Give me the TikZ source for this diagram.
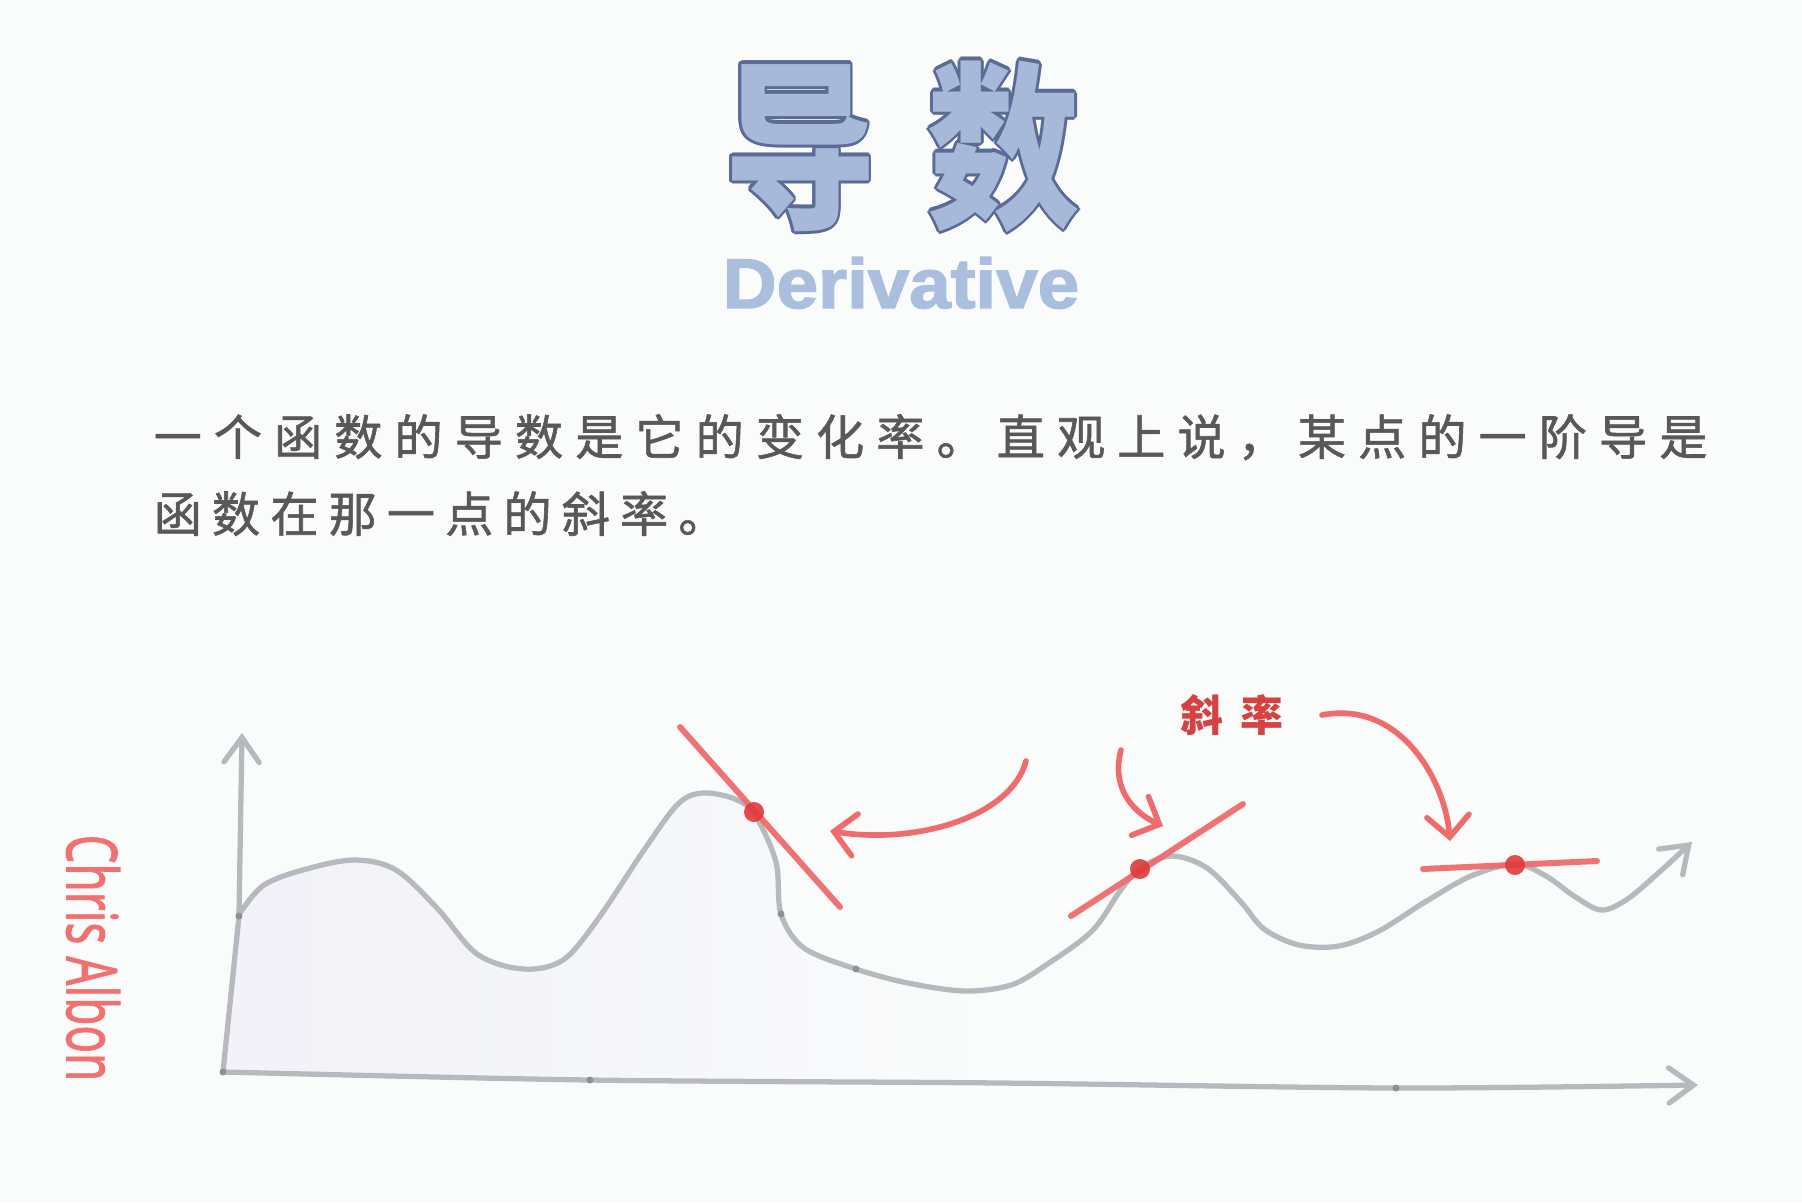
\documentclass[tikz,border=0pt]{standalone}
\usepackage{fontspec}
\usepackage{xcolor}
\usetikzlibrary{arrows.meta,fadings}
\setmainfont{Noto Sans}
\newfontfamily\cjk{Noto Sans CJK SC}
\newfontfamily\headfont{Liberation Sans}

\definecolor{paper}{RGB}{250,251,251}
\definecolor{titlefill}{RGB}{166,185,216}
\definecolor{titleline}{RGB}{92,107,150}
\definecolor{subtitle}{RGB}{170,191,222}
\definecolor{bodytext}{RGB}{88,88,88}
\definecolor{axisgray}{RGB}{182,186,190}
\definecolor{jointgray}{RGB}{140,145,150}
\definecolor{slopered}{RGB}{240,108,108}
\definecolor{dotred}{RGB}{224,58,58}
\definecolor{labelred}{RGB}{214,66,66}
\definecolor{signred}{RGB}{242,112,112}
\definecolor{undershade}{RGB}{242,242,248}

\begin{document}
\begin{tikzpicture}[x=0.01cm, y=-0.01cm,
    titletext/.style={font=\cjk\bfseries\fontsize{51}{51}\selectfont, anchor=base, inner sep=0pt, xscale=0.85},
    bodyline/.style={font=\cjk\fontsize{13.7}{16}\selectfont\addfontfeature{LetterSpace=#1, FakeBold=1.2}, text=bodytext, anchor=base west, inner sep=0pt},
    axis/.style={draw=axisgray, line width=1.5pt, line cap=round, line join=round},
    joint/.style={fill=jointgray},
    tangent/.style={draw=slopered, line width=1.7pt, line cap=round, draw opacity=0.95},
    pointer/.style={draw=slopered, line width=1.6pt, line cap=round, -{Straight Barb[length=6pt, width=12pt, line cap=round]}},
    touch/.style={fill=dotred, fill opacity=0.9},
    >={Straight Barb[length=7pt, width=10pt, line cap=round]}]

  % Background and margins
  \fill[paper] (0,0) rectangle (1802,1202);
  \useasboundingbox (0,0) rectangle (1802,1202);

  % Title
  \foreach \a in {0,30,...,330}
    \node[titletext, text=titleline, shift={(\a:3.2)}] (edge\a) at (902,214) {导\hspace{17pt}数};
  \node[titletext, text=titlefill] (title) at (902,214) {导\hspace{17pt}数};
  \node[font=\headfont\bfseries\fontsize{20}{20}\selectfont\addfontfeature{FakeBold=2}, text=subtitle, anchor=base, inner sep=0pt, xscale=1.06] (subtitle) at (901,308) {Derivative};

  % Text
  \node[bodyline=25] (line1) at (153,455) {一个函数的导数是它的变化率。直观上说，某点的一阶导是};
  \node[bodyline=21] (line2) at (153,532) {函数在那一点的斜率。};

  % Signature
  \node[rotate=-90, xscale=0.65, font=\fontsize{20}{20}\selectfont\addfontfeature{FakeBold=1.2}, text=signred, inner sep=0pt] (sign) at (93,958) {Chris Albon};

  % Shading under the curve
  \fill[undershade, path fading=east] plot[smooth, tension=0.55] coordinates {
      (238,916) (264,885) (310,868) (356,860) (396,870) (437,908) (477,954) (523,969)
      (563,960) (598,919) (644,850) (678,804) (703,793) (735,799) (755,815) (776,862)
      (781,914) (804,948) (856,969) (908,983) (965,991)}
    -- (965,1082) -- (223,1072) -- cycle;

  % Axes
  \coordinate (origin) at (223,1072);
  \coordinate (ytip) at (242,733);
  \coordinate (xtip) at (1698,1085);
  \draw[axis, ->] (origin) -- (239,916) -- (ytip);
  \draw[axis, ->] plot[smooth, tension=0.5] coordinates {(origin) (590,1080) (1000,1083) (1396,1088) (xtip)};

  % Function
  \draw[axis, ->] plot[smooth, tension=0.55] coordinates {
      (238,916) (264,885) (310,868) (356,860) (396,870) (437,908) (477,954) (523,969)
      (563,960) (598,919) (644,850) (678,804) (703,793) (735,799) (755,815) (776,862)
      (781,914) (804,948) (856,969) (908,983) (965,991) (1011,985) (1046,965) (1092,931)
      (1120,891) (1140,868) (1172,856) (1207,868) (1241,902) (1264,929) (1299,945)
      (1339,946) (1379,931) (1425,902) (1471,876) (1515,864) (1546,876) (1574,896)
      (1601,910) (1626,900) (1655,876) (1692,842)};
  \foreach \p in {(origin), (239,916), (781,914), (856,969), (590,1080), (1396,1088)}
    \fill[joint] \p circle (3.5);

  % Tangent lines
  \coordinate (p1) at (754,812);
  \coordinate (p2) at (1140,869);
  \coordinate (p3) at (1515,865);
  \draw[tangent] (680,727) -- (840,907);
  \draw[tangent] (1071,916) -- (1243,804);
  \draw[tangent] (1423,869) -- (1597,861);
  \fill[touch] (p1) circle (10);
  \fill[touch] (p2) circle (10);
  \fill[touch] (p3) circle (10);

  % Label and pointers
  \node[font=\cjk\bfseries\fontsize{12.2}{14}\selectfont, text=labelred, anchor=base, inner sep=0pt] (slope) at (1232,731) {斜\hspace{5pt}率};
  \coordinate (a1) at (1026,761);
  \coordinate (a1tip) at (830,831);
  \coordinate (a2) at (1121,750);
  \coordinate (a2tip) at (1163,826);
  \coordinate (a3) at (1322,715);
  \coordinate (a3tip) at (1450,841);
  \draw[pointer] (a1) .. controls (1012,815) and (920,845) .. (a1tip);
  \draw[pointer] (a2) .. controls (1110,792) and (1138,815) .. (a2tip);
  \draw[pointer] (a3) .. controls (1400,700) and (1445,780) .. (a3tip);
\end{tikzpicture}
\end{document}
